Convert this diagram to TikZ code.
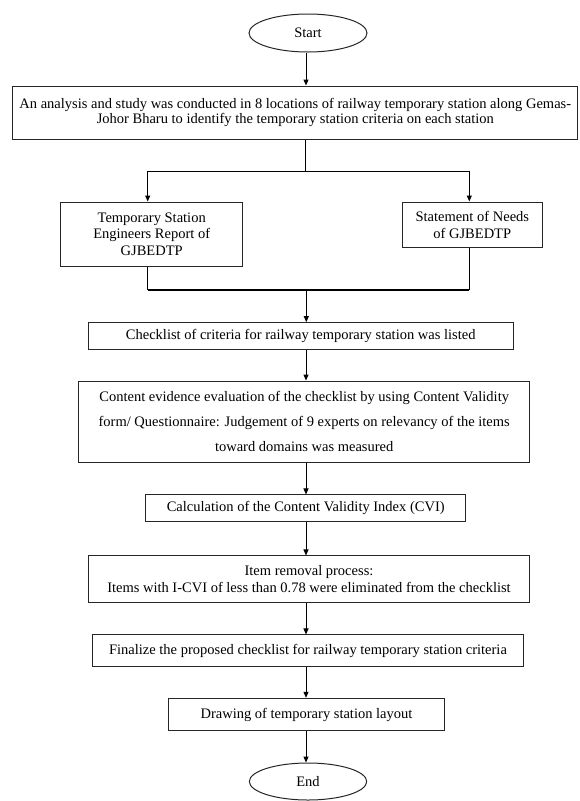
\documentclass[tikz,border=0pt]{standalone}
\usepackage{fontspec}
\setmainfont{Liberation Serif}
\usetikzlibrary{arrows.meta,shapes.geometric}
\begin{document}
\begin{tikzpicture}[x=1pt,y=-1pt,
  txt/.style={font=\fontsize{14.5}{15}\selectfont},
  box/.style={draw=black!85, line width=1pt, rectangle, inner sep=0pt, align=center, txt},
  oval/.style={draw=black!85, line width=1pt, ellipse, inner sep=0pt, txt},
  arr/.style={draw=black, line width=1pt, -{Triangle[length=6pt,width=5pt]}},
  ln/.style={draw=black, line width=1pt}]
\useasboundingbox (0,0) rectangle (579,801);

% nodes
\node[oval, minimum width=118pt, minimum height=38pt] (start) at (308,33) {Start};
\node[box, minimum width=565pt, minimum height=53pt] (b1) at (295.3,112.5)
  {An analysis and study was conducted in 8 locations of railway temporary station along Gemas-\\Johor Bharu to identify the temporary station criteria on each station};
\node[box, minimum width=182pt, minimum height=64pt, font=\fontsize{14.5}{16.5}\selectfont] (tl) at (151.7,234)
  {Temporary Station\\Engineers Report of\\GJBEDTP};
\node[box, minimum width=140pt, minimum height=45pt, font=\fontsize{14.5}{17}\selectfont] (tr) at (472.3,224.5)
  {Statement of Needs\\of GJBEDTP};
\node[box, minimum width=424.7pt, minimum height=27.3pt] (ck) at (300.7,336.3)
  {Checklist of criteria for railway temporary station was listed};
\node[box, minimum width=451pt, minimum height=81pt, font=\fontsize{14.5}{25}\selectfont] (ce) at (304.2,421.5)
  {Content evidence evaluation of the checklist by using Content Validity\\form/ Questionnaire: Judgement of 9 experts on relevancy of the items\\toward domains was measured};
\node[box, minimum width=320pt, minimum height=26.7pt] (cvi) at (305.7,508.3)
  {Calculation of the Content Validity Index (CVI)};
\node[box, minimum width=441.4pt, minimum height=46.7pt, font=\fontsize{14.5}{16.7}\selectfont] (ir) at (309,579.3)
  {Item removal process:\\Items with I-CVI of less than 0.78 were eliminated from the checklist};
\node[box, minimum width=430.6pt, minimum height=31.7pt] (fin) at (308,650.8)
  {Finalize the proposed checklist for railway temporary station criteria};
\node[box, minimum width=276.4pt, minimum height=32.4pt] (dr) at (306.5,714.5)
  {Drawing of temporary station layout};
\node[oval, minimum width=117.4pt, minimum height=37pt] (end) at (308,781.5) {End};

% helper coordinates
\coordinate (c) at (306,0);
\coordinate (sp) at (305,171);
\coordinate (lx) at (147.7,0);
\coordinate (rx) at (469.3,0);
\coordinate (mg) at (306.3,290);

% connectors
\draw[arr] (start.south -| c) -- (b1.north -| c);
\draw[ln] (b1.south -| sp) -- (sp);
\draw[arr] (sp) -| (tl.north -| lx);
\draw[arr] (sp) -| (tr.north -| rx);
\draw[ln] (tl.south -| lx) -- (lx |- mg);
\draw[ln] (tr.south -| rx) -- (rx |- mg);
\draw[ln, line width=1.5pt] (lx |- mg) -- (rx |- mg);
\draw[arr] (mg) -- (ck.north -| mg);
\draw[arr] (ck.south -| c) -- (ce.north -| c);
\draw[arr] (ce.south -| c) -- (cvi.north -| c);
\draw[arr] (cvi.south -| c) -- (ir.north -| c);
\draw[arr] (ir.south -| c) -- (fin.north -| c);
\draw[arr] (fin.south -| c) -- (dr.north -| c);
\draw[arr] (dr.south -| c) -- (end.north -| c);
\end{tikzpicture}
\end{document}
